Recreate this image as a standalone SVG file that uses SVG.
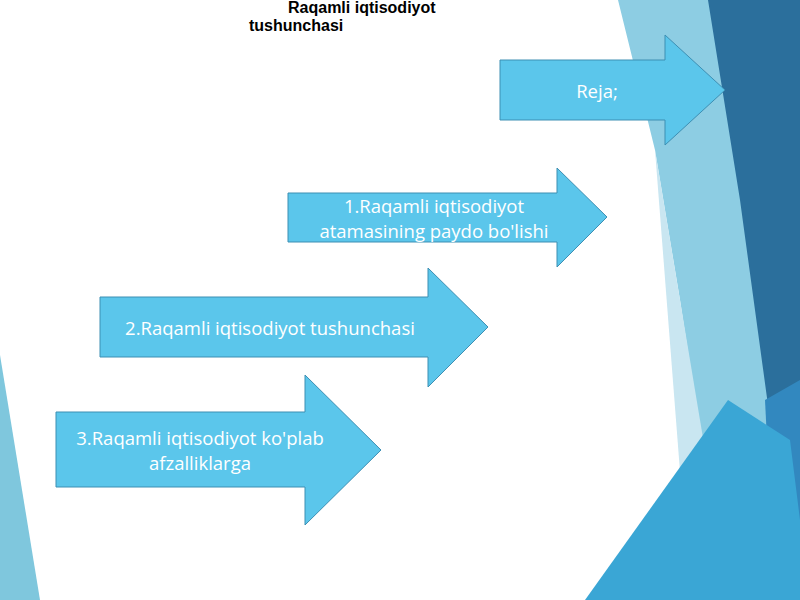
<svg xmlns="http://www.w3.org/2000/svg" width="800" height="600" viewBox="0 0 800 600">
<style>
.a{fill:#5bc6eb;stroke:#3d8fb3;stroke-width:1}
.t{fill:#fff;font-family:"Open Sans",sans-serif;font-size:18.5px;text-anchor:middle}
.h{fill:#000;font-family:"Liberation Sans",Arial,sans-serif;font-size:16px;font-weight:bold}
</style>
<rect width="800" height="600" fill="#fff"/>
<g id="background">
<polygon points="618,0 800,0 800,600 690,600 700,430 680,300 655,150" fill="#8dcde3"/>
<polygon points="655,150 690,600 730,600 700,420" fill="#c9e6f1"/>
<polygon points="708,0 800,0 800,600 775,600 770,420 740,200" fill="#2b6f9c"/>
<polygon points="765,400 800,380 800,600 775,600" fill="#3288bf"/>
<polygon points="585,600 728,400 790,440 800,520 800,600" fill="#3aa6d5"/>
<polygon points="0,355 40,600 0,600" fill="#7fc7dd"/>
</g>
<text class="h" x="288" y="13">Raqamli iqtisodiyot</text>
<text class="h" x="249" y="31">tushunchasi</text>
<g id="n0"><polygon class="a" points="500,60 665,60 665,35 725,90 665,145 665,120 500,120"/><text class="t" x="597" y="98">Reja;</text></g>
<g id="n1"><polygon class="a" points="288,193 557,193 557,168 607,217 557,267 557,242 288,242"/><text class="t" x="434" y="213">1.Raqamli iqtisodiyot</text><text class="t" x="434" y="238">atamasining paydo bo'lishi</text></g>
<g id="n2"><polygon class="a" points="100,297 428,297 428,268 488,327 428,387 428,357 100,357"/><text class="t" x="270" y="335">2.Raqamli iqtisodiyot tushunchasi</text></g>
<g id="n3"><polygon class="a" points="56,412 305,412 305,375 381,450 305,525 305,487 56,487"/><text class="t" x="200" y="445">3.Raqamli iqtisodiyot ko'plab</text><text class="t" x="200" y="470">afzalliklarga</text></g>
<g id="connectors"/>
</svg>
